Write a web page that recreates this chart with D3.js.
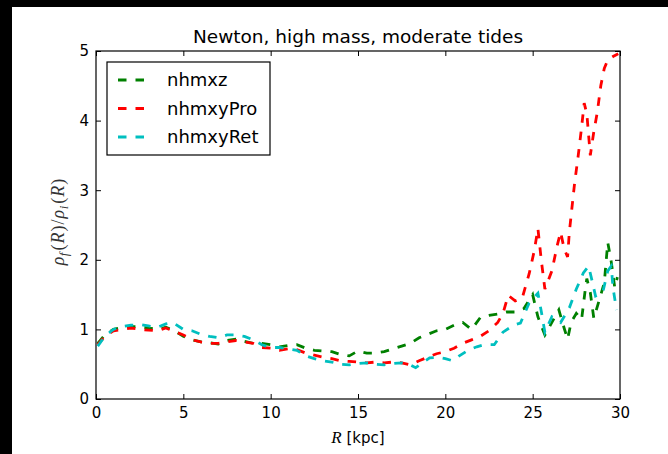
<!DOCTYPE html>
<html>
<head>
<meta charset="utf-8">
<script src="https://cdn.jsdelivr.net/npm/d3@7"></script>
<style>
  body { margin: 0; background: #000; }
  svg { display: block; }
</style>
</head>
<body>
<div class="densityChart"></div>
<script>
// Series data: [R (kpc), rho_f/rho_i]
const nhmxz = [
  [0.1, 0.8], [0.5, 0.92], [1, 1.0], [1.5, 1.03], [2, 1.04], [2.5, 1.04], [3, 1.02], [3.5, 1.0],
  [4, 1.03], [4.5, 0.98], [5, 0.9], [5.5, 0.85], [6, 0.82], [6.5, 0.81], [7, 0.79], [7.5, 0.84],
  [8, 0.86], [8.5, 0.83], [9, 0.8], [9.5, 0.8], [10, 0.78], [10.5, 0.75], [11, 0.77], [11.5, 0.78],
  [12, 0.73], [12.5, 0.7], [13, 0.69], [13.5, 0.68], [14, 0.64], [14.5, 0.62], [15, 0.69], [15.5, 0.66],
  [16, 0.66], [16.5, 0.68], [17, 0.72], [17.5, 0.76], [18, 0.8], [18.5, 0.88], [19, 0.93], [19.5, 0.98],
  [20, 1.0], [20.5, 1.06], [21, 1.1], [21.5, 1.0], [22, 1.17], [22.5, 1.2], [23, 1.22], [23.5, 1.25],
  [24, 1.25], [24.5, 1.3], [25, 1.5], [25.3, 1.18], [25.7, 0.92], [26.1, 1.1], [26.5, 1.28], [26.8, 1.02],
  [27, 0.86], [27.2, 1.1], [27.5, 1.23], [27.8, 1.14], [28, 1.55], [28.1, 1.73], [28.3, 1.53], [28.5, 1.16],
  [28.8, 1.41], [29.1, 1.67], [29.3, 2.25], [29.5, 1.97], [29.7, 1.6], [29.85, 1.75]
];
const nhmxyPro = [
  [0.1, 0.78], [0.5, 0.9], [1, 0.98], [1.5, 1.0], [2, 1.02], [2.5, 1.0], [3, 0.99], [3.5, 0.98],
  [4, 1.02], [4.5, 0.97], [5, 0.92], [5.5, 0.85], [6, 0.82], [6.5, 0.8], [7, 0.8], [7.5, 0.82],
  [8, 0.84], [8.5, 0.82], [9, 0.8], [9.5, 0.74], [10, 0.73], [10.5, 0.7], [11, 0.72], [11.5, 0.71],
  [12, 0.66], [12.5, 0.63], [13, 0.6], [13.5, 0.58], [14, 0.55], [14.5, 0.54], [15, 0.53], [15.5, 0.52],
  [16, 0.53], [16.5, 0.52], [17, 0.53], [17.5, 0.52], [18, 0.49], [18.5, 0.55], [19, 0.6], [19.5, 0.65],
  [20, 0.68], [20.5, 0.73], [21, 0.8], [21.5, 0.85], [22, 0.9], [22.5, 0.98], [23, 1.1], [23.3, 1.23],
  [23.6, 1.49], [24, 1.41], [24.4, 1.45], [24.8, 1.8], [25.1, 2.14], [25.3, 2.45], [25.5, 1.98], [25.7, 1.58],
  [26.1, 1.84], [26.4, 2.2], [26.6, 2.4], [26.8, 2.16], [27, 2.04], [27.1, 2.4], [27.4, 3.1], [27.6, 3.48],
  [27.8, 3.9], [27.95, 4.25], [28.1, 4.1], [28.3, 3.5], [28.5, 3.84], [28.7, 4.12], [28.9, 4.5], [29.1, 4.75],
  [29.3, 4.87], [29.6, 4.92], [29.9, 4.96]
];
const nhmxyRet = [
  [0.1, 0.76], [0.5, 0.9], [1, 1.0], [1.5, 1.04], [2, 1.06], [2.5, 1.07], [3, 1.05], [3.5, 1.03],
  [4, 1.08], [4.4, 1.1], [5, 1.0], [5.5, 0.98], [6, 0.93], [6.5, 0.9], [7, 0.88], [7.5, 0.92],
  [8, 0.92], [8.5, 0.9], [9, 0.85], [9.5, 0.78], [10, 0.74], [10.5, 0.74], [11, 0.72], [11.5, 0.7],
  [12, 0.62], [12.5, 0.58], [13, 0.55], [13.5, 0.53], [14, 0.5], [14.5, 0.49], [15, 0.51], [15.5, 0.52],
  [16, 0.5], [16.5, 0.49], [17, 0.51], [17.5, 0.52], [18, 0.49], [18.3, 0.45], [18.7, 0.52], [19.1, 0.59],
  [19.6, 0.6], [20, 0.58], [20.4, 0.55], [20.8, 0.62], [21.3, 0.7], [21.8, 0.75], [22.2, 0.78], [22.8, 0.78],
  [23.3, 0.96], [23.9, 1.06], [24.3, 1.09], [24.8, 1.38], [25.3, 1.52], [25.5, 1.25], [25.7, 0.96], [26.1, 1.18],
  [26.6, 1.1], [27.1, 1.31], [27.5, 1.58], [27.9, 1.81], [28.2, 1.91], [28.4, 1.7], [28.6, 1.48], [29, 1.52],
  [29.3, 1.84], [29.5, 1.91], [29.6, 1.6], [29.8, 1.28]
];

const seriesNames = ["nhmxz", "nhmxyPro", "nhmxyRet"];
const seriesColors = ["#008000", "#ff0000", "#00bfbf"];
const seriesData = [nhmxz, nhmxyPro, nhmxyRet];
const xTicks = [0, 5, 10, 15, 20, 25, 30];
const yTicks = [0, 1, 2, 3, 4, 5];

// Chart geometry
const width = 668;
const height = 454;
const margin = { top: 51, right: 48, bottom: 55, left: 96 };
const innerW = width - margin.left - margin.right;
const innerH = height - margin.top - margin.bottom;

const svg = d3.select(".densityChart")
  .append("svg")
  .attr("width", width)
  .attr("height", height);

// figure background (black strip on the left / top edge like the reference)
svg.append("rect")
  .attr("x", 12).attr("y", 7)
  .attr("width", width - 12).attr("height", height - 7)
  .attr("fill", "white");

const g = svg.append("g")
  .attr("transform", "translate(" + margin.left + "," + margin.top + ")");

const x = d3.scaleLinear().domain([0, 30]).range([0, innerW]);
const y = d3.scaleLinear().domain([0, 5]).range([innerH, 0]);

// Lines
const line = d3.line()
  .x(d => x(d[0]))
  .y(d => y(d[1]));

g.append("defs").append("clipPath").attr("id", "plotClip")
  .append("rect").attr("width", innerW).attr("height", innerH);

g.append("g")
  .attr("clip-path", "url(#plotClip)")
  .selectAll("path")
  .data(seriesData)
  .join("path")
  .attr("d", line)
  .attr("fill", "none")
  .attr("stroke", (d, i) => seriesColors[i])
  .attr("stroke-width", 2.8)
  .attr("stroke-dasharray", "8.5,9");

// Axes, ticks pointing inward on all four sides
const tickFont = "'DejaVu Sans', sans-serif";

const xAxis = g.append("g")
  .attr("transform", "translate(0," + innerH + ")")
  .call(d3.axisBottom(x).tickValues(xTicks).tickFormat(d3.format("d")).tickSize(-5).tickPadding(8));
const yAxis = g.append("g")
  .call(d3.axisLeft(y).tickValues(yTicks).tickFormat(d3.format("d")).tickSize(-5).tickPadding(7));
g.append("g")
  .attr("transform", "translate(" + innerW + ",0)")
  .call(d3.axisRight(y).tickValues(yTicks).tickSize(-5).tickFormat(""));
g.append("g")
  .call(d3.axisTop(x).tickValues(xTicks).tickSize(-5).tickFormat(""));

g.selectAll(".domain").remove();
g.selectAll(".tick line").attr("stroke", "#000");
[xAxis, yAxis].forEach(a => a.selectAll("text")
  .style("font-family", tickFont)
  .style("font-size", "15px")
  .attr("fill", "#000"));

// frame
g.append("rect")
  .attr("width", innerW)
  .attr("height", innerH)
  .attr("fill", "none")
  .attr("stroke", "#000")
  .attr("stroke-width", 1.2);

// Title
svg.append("text")
  .attr("x", margin.left + innerW / 2)
  .attr("y", 43)
  .attr("text-anchor", "middle")
  .style("font-family", tickFont)
  .style("font-size", "18.5px")
  .text("Newton, high mass, moderate tides");

// x label
const xLabel = svg.append("text")
  .attr("x", margin.left + innerW / 2)
  .attr("y", 443)
  .attr("text-anchor", "middle")
  .style("font-family", tickFont)
  .style("font-size", "15px");
xLabel.append("tspan")
  .style("font-family", "'Liberation Serif', serif")
  .style("font-style", "italic")
  .style("font-size", "17px")
  .text("R");
xLabel.append("tspan").text(" [kpc]");

// y label (math style), pieces laid out one after another
const yLabelParts = [
  { t: "ρ", italic: true, sub: false },
  { t: "f", italic: true, sub: true },
  { t: "(", italic: false, sub: false },
  { t: "R", italic: true, sub: false },
  { t: ")", italic: false, sub: false },
  { t: "/", italic: false, sub: false },
  { t: "ρ", italic: true, sub: false },
  { t: "i", italic: true, sub: true },
  { t: "(", italic: false, sub: false },
  { t: "R", italic: true, sub: false },
  { t: ")", italic: false, sub: false }
];
const yLabel = svg.append("text")
  .attr("transform", "translate(64," + (margin.top + innerH / 2 - 2) + ") rotate(-90)")
  .attr("text-anchor", "middle")
  .style("font-family", "'Liberation Serif', serif")
  .style("font-size", "18px")
  .attr("fill", "#333");
yLabelParts.forEach((p, i) => {
  const prevSub = i > 0 && yLabelParts[i - 1].sub;
  yLabel.append("tspan")
    .attr("dy", p.sub ? 4 : (prevSub ? -4 : 0))
    .attr("dx", p.sub ? 0.5 : (prevSub ? 2 : 1))
    .style("font-style", p.italic ? "italic" : "normal")
    .style("font-size", p.sub ? "13px" : "18px")
    .text(p.t);
});

// Legend
const legend = svg.append("g")
  .attr("transform", "translate(107,62)");

legend.append("rect")
  .attr("width", 163)
  .attr("height", 93)
  .attr("fill", "white")
  .attr("stroke", "#000")
  .attr("stroke-width", 1.2);

const legendItems = legend.selectAll("g.item")
  .data(seriesNames)
  .join("g")
  .attr("class", "item")
  .attr("transform", (d, i) => "translate(0," + (18 + i * 28.5) + ")");

legendItems.append("line")
  .attr("x1", 11).attr("x2", 38)
  .attr("stroke", (d, i) => seriesColors[i])
  .attr("stroke-width", 2.8)
  .attr("stroke-dasharray", "8.5,9");

legendItems.append("text")
  .attr("x", 60)
  .attr("dy", "0.35em")
  .style("font-family", tickFont)
  .style("font-size", "18px")
  .text(d => d);
</script>
</body>
</html>
